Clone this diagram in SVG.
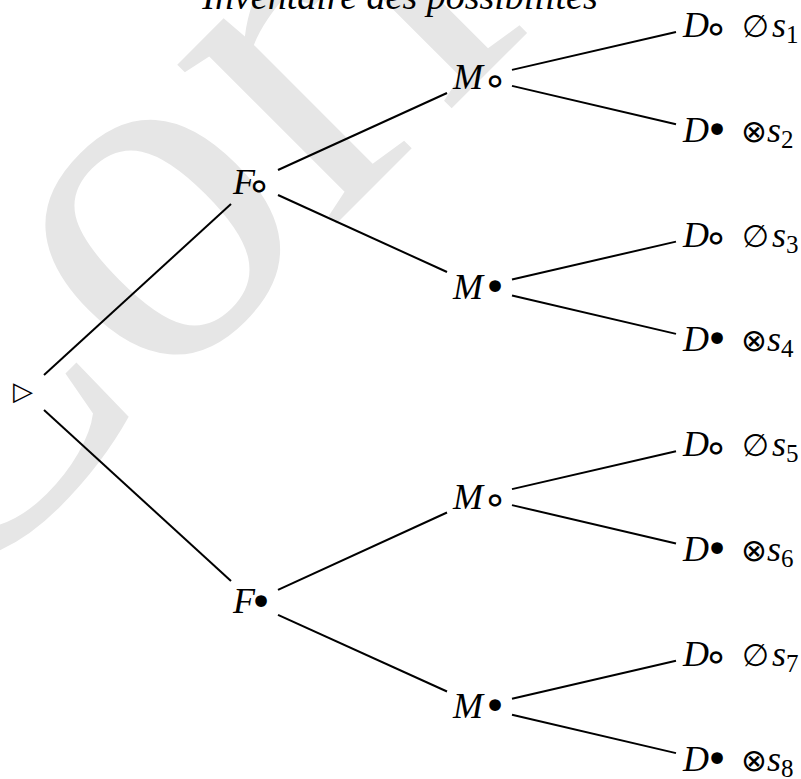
<svg xmlns="http://www.w3.org/2000/svg" width="801" height="779" viewBox="0 0 801 779">
<style>
.wm{font-family:"Liberation Serif","Times New Roman",serif;font-size:490px;fill:#e6e6e6}
.title{font-family:"Liberation Serif","Times New Roman",serif;font-style:italic;font-size:38px;fill:#000}
.it{font-family:"Liberation Serif","Times New Roman",serif;font-style:italic;font-size:36px;fill:#000}
.ring{font-family:"DejaVu Sans",sans-serif;font-size:40px;fill:#000;text-anchor:middle}
.op{font-family:"DejaVu Sans",sans-serif;font-size:31px;font-weight:200;fill:#000;text-anchor:middle}
.sub{font-family:"Liberation Serif","Times New Roman",serif;font-style:normal;font-size:25px}
.edge{stroke:#000;stroke-width:2;fill:none}
</style>
<g id="watermark"><text class="wm" x="-75" y="635" transform="rotate(-45 -75 635)">Corrigé</text></g>
<g id="title"><text class="title" x="400" y="9" text-anchor="middle">Inventaire des possibilités</text></g>
<g id="connectors">
<line class="edge" x1="44" y1="375" x2="231" y2="204"/>
<line class="edge" x1="44" y1="410" x2="231" y2="581"/>
<line class="edge" x1="278" y1="170" x2="447" y2="93"/>
<line class="edge" x1="278" y1="195" x2="447" y2="272"/>
<line class="edge" x1="278" y1="589.8" x2="447" y2="512.5"/>
<line class="edge" x1="278" y1="614.8" x2="447" y2="691.5"/>
<line class="edge" x1="512" y1="69.9" x2="676" y2="32"/>
<line class="edge" x1="512" y1="85.9" x2="676" y2="124.3"/>
<line class="edge" x1="512" y1="279.5" x2="676" y2="241.6"/>
<line class="edge" x1="512" y1="295.5" x2="676" y2="333.9"/>
<line class="edge" x1="512" y1="489.1" x2="676" y2="451.2"/>
<line class="edge" x1="512" y1="505.1" x2="676" y2="543.5"/>
<line class="edge" x1="512" y1="698.7" x2="676" y2="660.8"/>
<line class="edge" x1="512" y1="714.7" x2="676" y2="753.1"/>
</g>
<g id="root"><text class="ring" x="23" y="400" style="font-size:26px;font-weight:bold">▷</text></g>
<g id="F1"><text class="it" x="233" y="194.2">F</text><text class="ring" x="259" y="199">∘</text></g>
<g id="F2"><text class="it" x="233" y="613.4">F</text><text class="ring" x="261" y="615.5">•</text></g>
<g id="M1"><text class="it" x="453" y="89.4">M</text><text class="ring" x="495" y="94">∘</text></g>
<g id="M2"><text class="it" x="453" y="299">M</text><text class="ring" x="495" y="301">•</text></g>
<g id="M3"><text class="it" x="453" y="508.6">M</text><text class="ring" x="495" y="513.2">∘</text></g>
<g id="M4"><text class="it" x="453" y="718.2">M</text><text class="ring" x="495" y="720.2">•</text></g>
<g id="s1"><text class="it" x="683" y="37">D</text><text class="ring" x="716" y="41.6">∘</text><text class="op" x="755" y="37">∅</text><text class="it" x="772" y="37">s<tspan class="sub" dy="6">1</tspan></text></g>
<g id="s2"><text class="it" x="683" y="141.8">D</text><text class="ring" x="717" y="143.8">•</text><text class="op" x="754" y="141.8">⊗</text><text class="it" x="767" y="141.8">s<tspan class="sub" dy="6">2</tspan></text></g>
<g id="s3"><text class="it" x="683" y="246.6">D</text><text class="ring" x="716" y="251.2">∘</text><text class="op" x="755" y="246.6">∅</text><text class="it" x="772" y="246.6">s<tspan class="sub" dy="6">3</tspan></text></g>
<g id="s4"><text class="it" x="683" y="351.4">D</text><text class="ring" x="717" y="353.4">•</text><text class="op" x="754" y="351.4">⊗</text><text class="it" x="767" y="351.4">s<tspan class="sub" dy="6">4</tspan></text></g>
<g id="s5"><text class="it" x="683" y="456.2">D</text><text class="ring" x="716" y="460.8">∘</text><text class="op" x="755" y="456.2">∅</text><text class="it" x="772" y="456.2">s<tspan class="sub" dy="6">5</tspan></text></g>
<g id="s6"><text class="it" x="683" y="561">D</text><text class="ring" x="717" y="563">•</text><text class="op" x="754" y="561">⊗</text><text class="it" x="767" y="561">s<tspan class="sub" dy="6">6</tspan></text></g>
<g id="s7"><text class="it" x="683" y="665.8">D</text><text class="ring" x="716" y="670.4">∘</text><text class="op" x="755" y="665.8">∅</text><text class="it" x="772" y="665.8">s<tspan class="sub" dy="6">7</tspan></text></g>
<g id="s8"><text class="it" x="683" y="770.6">D</text><text class="ring" x="717" y="772.6">•</text><text class="op" x="754" y="770.6">⊗</text><text class="it" x="767" y="770.6">s<tspan class="sub" dy="6">8</tspan></text></g>
</svg>
